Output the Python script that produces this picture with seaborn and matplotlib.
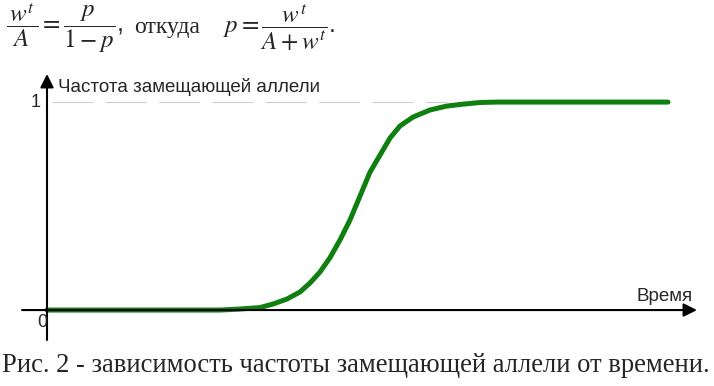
import matplotlib
matplotlib.use("Agg")
import matplotlib.pyplot as plt
import seaborn as sns

# time (arbitrary units) and frequency of the replacing allele
time = [0, 17.3, 19.3, 21.3, 22.6, 24.0, 25.3, 26.3, 27.3, 28.3, 29.3, 30.3,
        31.3, 32.3, 33.3, 34.3, 35.3, 36.6, 38.3, 40.0, 41.6, 43.3, 45.0, 62.1]
freq = [0, 0, 0.005, 0.012, 0.029, 0.053, 0.087, 0.130, 0.183, 0.252, 0.337,
        0.433, 0.548, 0.663, 0.745, 0.827, 0.885, 0.928, 0.962, 0.981, 0.990,
        0.998, 1.0, 1.0]

y_label = "Частота замещающей аллели"
x_label = "Время"
caption = "Рис. 2 - зависимость частоты замещающей аллели от времени."

sns.set_style("white")
plt.rcParams["font.family"] = ["Liberation Sans", "DejaVu Sans"]
plt.rcParams["mathtext.fontset"] = "stix"

fig = plt.figure(figsize=(7.14, 3.86), dpi=100)
# axes spans pixel x 22..697, y 74..340
ax = fig.add_axes([22 / 714, (386 - 340) / 386, 675 / 714, 266 / 386])
ax.set_xlim(-2.5, 65)
ax.set_ylim(-0.144, 1.135)
ax.axis("off")

# dashed guide at p = 1
ax.hlines(1.0, 0.5, 40, color="#cdcdcd", lw=0.8, linestyle=(0, (37, 11)))

# axes with arrows
arrow = dict(arrowstyle="-|>", lw=1.5, color="black", mutation_scale=20,
             shrinkA=0, shrinkB=0)
ax.annotate("", xy=(65, 0), xytext=(-2.5, 0), arrowprops=arrow)
ax.annotate("", xy=(0, 1.135), xytext=(0, -0.144), arrowprops=arrow)

sns.lineplot(x=time, y=freq, ax=ax, color="#0f7f0f", lw=3.6,
             solid_capstyle="round", solid_joinstyle="round")

ax.text(-0.6, 1.0, "1", ha="right", va="center", fontsize=13)
ax.text(0.0, -0.058, "0", ha="right", va="center", fontsize=13)
ax.text(1.1, 1.072, y_label, ha="left", va="center", fontsize=13.5)
ax.text(64.6, 0.067, x_label, ha="right", va="center", fontsize=13.5)

# formula line at the top
fig.text(6 / 714, 1 - 28 / 386,
         r"$\dfrac{\,w^t\,}{A} = \dfrac{p}{1 - p}$,",
         ha="left", va="center", fontsize=18)
fig.text(134 / 714, 1 - 28 / 386, "откуда", ha="left", va="center",
         fontsize=17, family=["Liberation Serif"])
fig.text(223 / 714, 1 - 28 / 386, r"$p = \dfrac{w^t}{A + w^t}$.",
         ha="left", va="center", fontsize=18)

fig.text(2 / 714, 1 - 366 / 386, caption, ha="left", va="center",
         fontsize=19.2, family=["Liberation Serif"])

fig.savefig("out.png", dpi=100)
